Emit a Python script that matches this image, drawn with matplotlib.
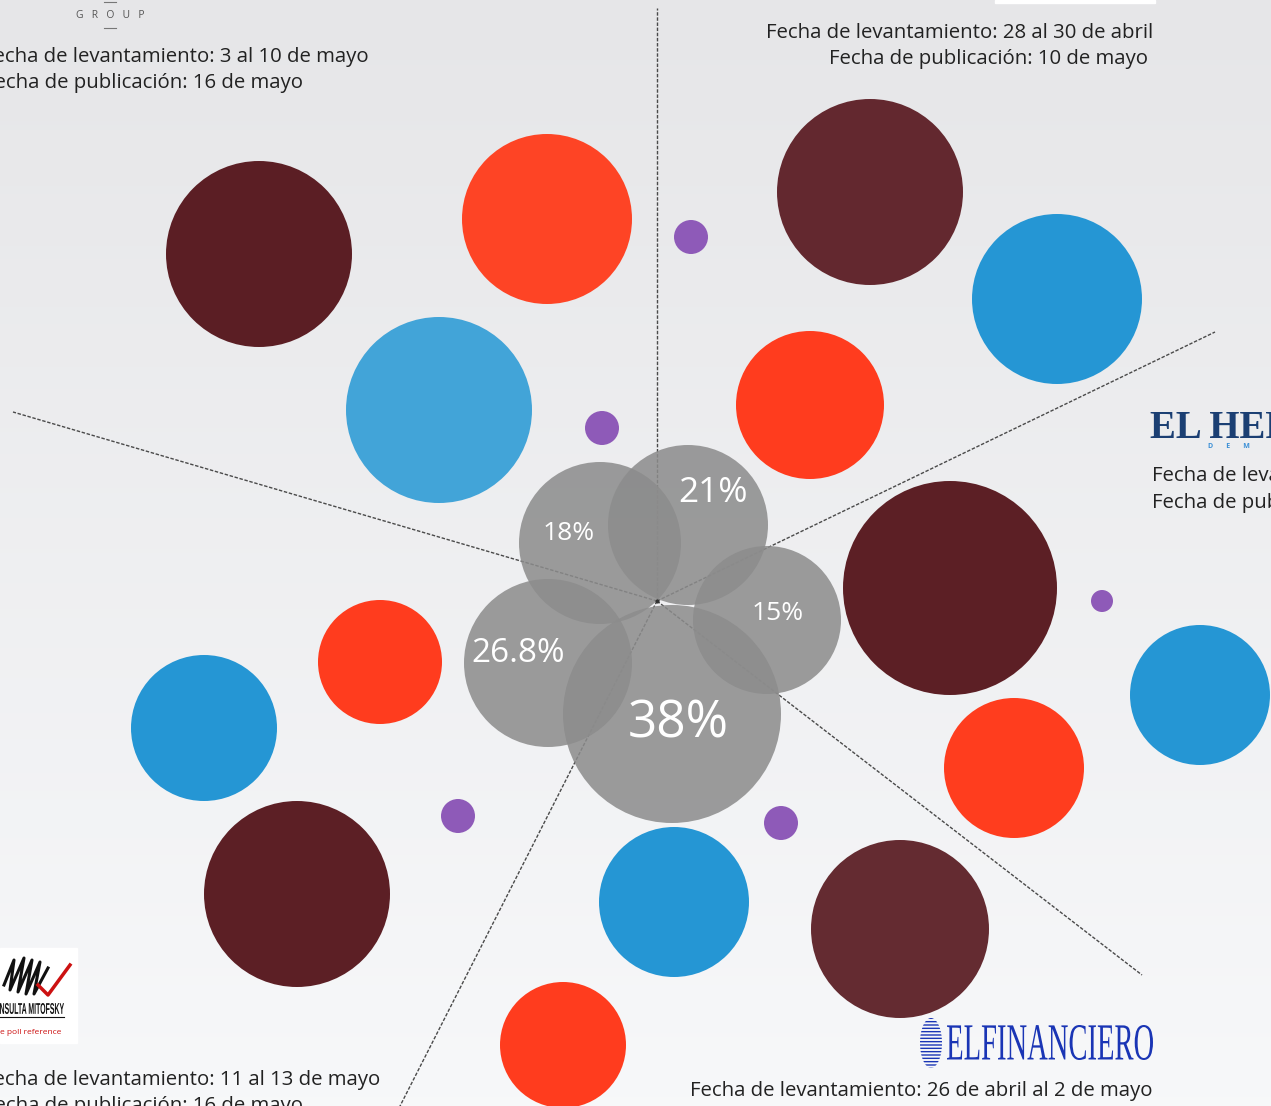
import matplotlib.pyplot as plt
import numpy as np
from matplotlib.patches import Circle, Rectangle, PathPatch, Ellipse
from matplotlib.textpath import TextPath
from matplotlib.font_manager import FontProperties
from matplotlib.transforms import Affine2D

W, H = 1271, 1106

# encuestas y porcentaje del centro (burbujas grises)
polls = ["GROUP", "28 al 30 de abril", "El Heraldo", "El Financiero", "Mitofsky"]
center_pct = ["18%", "21%", "15%", "38%", "26.8%"]
center_pos = [(600, 543), (688, 525), (767, 620), (672, 714), (548, 663)]
center_r = [81, 80, 74, 109, 84]
center_lbl_pos = [(569, 533), (713, 493), (778, 614), (678, 724), (518, 653)]
center_fs = [19, 25.5, 19, 37, 24]

# burbujas de cada partido por encuesta (mismo orden que polls)
maroon_pos = [(259, 254), (870, 192), (950, 588), (900, 929), (297, 894)]
maroon_r = [93, 93, 107, 89, 93]
maroon_col = ["#5b1e24", "#63282f", "#5c1f25", "#642b31", "#5c1f25"]

orange_pos = [(547, 219), (810, 405), (1014, 768), (563, 1045), (380, 662)]
orange_r = [85, 74, 70, 63, 62]
orange_col = ["#fe4425", "#ff3c1e", "#ff3d1e", "#ff3c1e", "#ff3c1e"]

blue_pos = [(439, 410), (1057, 299), (1200, 695), (674, 902), (204, 728)]
blue_r = [93, 85, 70, 75, 73]
blue_col = ["#42a4d8", "#2596d4", "#2596d4", "#2596d4", "#2596d4"]

purple_pos = [(602, 428), (691, 237), (1102, 601), (781, 823), (458, 816)]
purple_r = [17, 17, 11, 17, 17]

# rayos que separan las encuestas
hub = (657, 601)
ray_ends = [(657, 8), (1215, 332), (1142, 975), (398, 1110), (13, 412)]

plt.rcParams['font.family'] = ['Open Sans', 'DejaVu Sans']

fig = plt.figure(figsize=(W / 100, H / 100), dpi=100)
ax = fig.add_axes([0, 0, 1, 1])
ax.set_xlim(0, W)
ax.set_ylim(H, 0)
ax.set_aspect('auto')
ax.axis('off')

# fondo degradado
grad = np.linspace(0, 1, 256).reshape(-1, 1)
top = np.array([0.902, 0.902, 0.910])
bot = np.array([0.969, 0.973, 0.980])
img = top + (bot - top) * grad[..., None]
ax.imshow(img, extent=[0, W, H, 0], aspect='auto', zorder=0)
ax.add_patch(Rectangle((995, 0), 160, 2.5, color='white', zorder=1))

for (x1, y1) in ray_ends:
    ax.plot([hub[0], x1], [hub[1], y1], color='#4a4a4a', lw=1.0,
            ls=(0, (2.5, 1.2)), zorder=2)

for pos, r, c in zip(maroon_pos, maroon_r, maroon_col):
    ax.add_patch(Circle(pos, r, color=c, zorder=3, lw=0))
for pos, r, c in zip(orange_pos, orange_r, orange_col):
    ax.add_patch(Circle(pos, r, color=c, zorder=3, lw=0))
for pos, r, c in zip(blue_pos, blue_r, blue_col):
    ax.add_patch(Circle(pos, r, color=c, zorder=3, lw=0))
for pos, r in zip(purple_pos, purple_r):
    ax.add_patch(Circle(pos, r, color='#8e5ab8', zorder=3, lw=0))

for pos, r in zip(center_pos, center_r):
    ax.add_patch(Circle(pos, r, color='#8c8c8c', alpha=0.86, zorder=4, lw=0))
for p, lp, fs in zip(center_pct, center_lbl_pos, center_fs):
    ax.text(lp[0], lp[1], p, color='white', fontsize=fs, ha='center',
            va='center', zorder=5)
ax.plot([hub[0]], [hub[1]], marker='o', ms=2, color='#333333', zorder=5)

txt = dict(color='#222222', fontsize=14.7, zorder=6)

# GROUP (arriba izquierda)
ax.text(110, 15, "G   R   O   U   P", fontsize=7.5, color='#555555',
        ha='center', va='center', zorder=6)
ax.plot([104, 116], [2, 2], color='#777777', lw=0.8, zorder=6)
ax.plot([104, 116], [28, 28], color='#777777', lw=0.8, zorder=6)
ax.text(369, 57, "Fecha de levantamiento: 3 al 10 de mayo", ha='right', va='center', **txt)
ax.text(303, 83, "Fecha de publicación: 16 de mayo", ha='right', va='center', **txt)

# arriba derecha
ax.text(1153, 33, "Fecha de levantamiento: 28 al 30 de abril", ha='right', va='center', **txt)
ax.text(1148, 59, "Fecha de publicación: 10 de mayo", ha='right', va='center', **txt)

# El Heraldo
ax.text(1150, 428, "EL HERALDO", family='Liberation Serif', fontweight='bold',
        fontsize=28, color='#1b3f73', ha='left', va='center', zorder=6)
ax.text(1208, 447, "D       E       M", fontsize=5, fontweight='bold',
        color='#3a8fd6', ha='left', va='center', zorder=6)
ax.text(1152, 476, "Fecha de levantamiento: 5 al 8 de mayo", ha='left', va='center', **txt)
ax.text(1152, 503, "Fecha de publicación: 12 de mayo", ha='left', va='center', **txt)


def squashed(s, x, y, w, h, color, family, weight='normal'):
    tp = TextPath((0, 0), s, size=100, prop=FontProperties(family=family, weight=weight))
    bb = tp.get_extents()
    sx = w / bb.width
    sy = h / bb.height
    tr = Affine2D().translate(-bb.x0, -bb.y0).scale(sx, -sy).translate(x, y) + ax.transData
    ax.add_patch(PathPatch(tp, color=color, lw=0, transform=tr, zorder=7))


# El Financiero
squashed("ELFINANCIERO", 947, 1060, 206, 35, '#1a35b5', 'Liberation Serif')
ax.add_patch(Ellipse((931, 1043), 22, 50, facecolor='none', edgecolor='#1a35b5',
                     hatch='-----', lw=0, zorder=7))
ax.text(1153, 1091, "Fecha de levantamiento: 26 de abril al 2 de mayo",
        ha='right', va='center', **txt)

# Mitofsky
ax.add_patch(Rectangle((0, 948), 77, 95, color='white', zorder=6))
ax.plot([4, 14, 10, 24, 18, 32, 26, 40, 34, 48], [985, 960, 990, 958, 992, 960, 994, 962, 994, 968],
        color='#111111', lw=2.2, zorder=7)
ax.plot([38, 48, 70], [985, 995, 965], color='#cc1111', lw=2.5, zorder=7)
squashed("NSULTA MITOFSKY", 0, 1014, 64, 11, '#111111', 'Liberation Sans', 'bold')
ax.plot([0, 64], [1017, 1017], color='#111111', lw=0.8, zorder=7)
ax.text(0, 1032, "e poll reference", fontsize=6, color='#cc1111',
        ha='left', va='center', zorder=7)
ax.text(380, 1080, "Fecha de levantamiento: 11 al 13 de mayo", ha='right', va='center', **txt)
ax.text(303, 1106, "Fecha de publicación: 16 de mayo", ha='right', va='center', **txt)

fig.savefig("out.png", dpi=100)
